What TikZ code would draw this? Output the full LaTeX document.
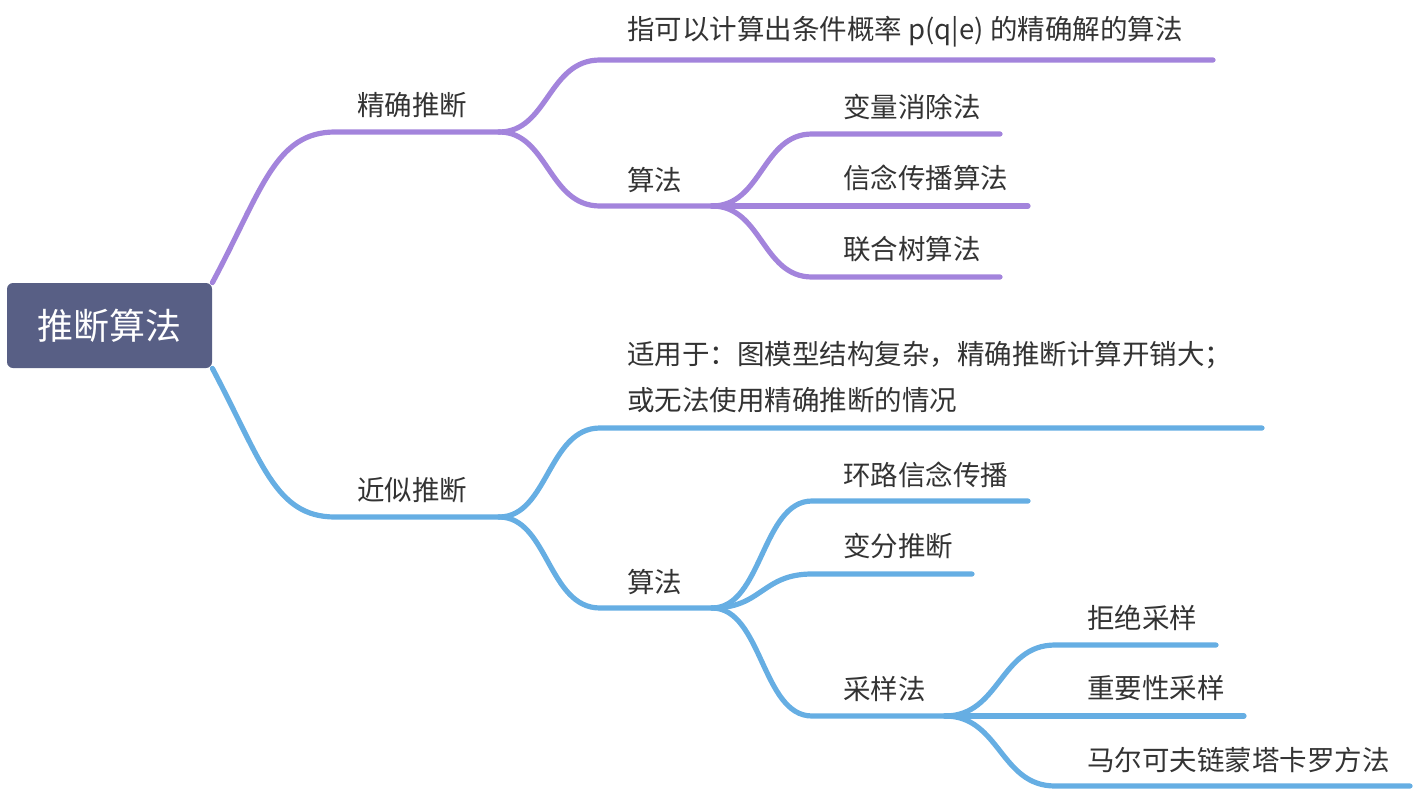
\documentclass[tikz,border=0pt]{standalone}
\usepackage{fontspec}
\usepackage{tikz}
\newfontfamily\cjk{Noto Sans CJK SC}
\definecolor{rootfill}{HTML}{585F85}
\definecolor{purpleline}{HTML}{A384DC}
\definecolor{blueline}{HTML}{66AEE3}
\definecolor{textgray}{HTML}{333333}

\begin{document}
\begin{tikzpicture}[x=0.5pt, y=-0.5pt,
    topic/.style={anchor=west, inner sep=0pt, text=textgray, font=\cjk\fontsize{13.75}{23}\selectfont},
    branch/.style={line width=2.6pt, line cap=round},
    rootbox/.style={rectangle, rounded corners=3pt, fill=rootfill, text=white, minimum width=102.5pt, minimum height=42.5pt, font=\cjk\fontsize{18}{20}\selectfont}]
    \useasboundingbox (0,0) rectangle (1418,792);
    % Nodes
    \node[rootbox] (root) at (109.5,325.5) {推断算法};
    \node[topic] (jq) at (357,105) {精确推断};
    \node[topic] (jqdef) at (627,32) {指可以计算出条件概率 p(q|e) 的精确解的算法};
    \node[topic] (jqalg) at (627,180) {算法};
    \node[topic] (bl) at (843,107) {变量消除法};
    \node[topic] (xn) at (843,178) {信念传播算法};
    \node[topic] (lh) at (843,249) {联合树算法};
    \node[topic] (js) at (357,490) {近似推断};
    \node[topic, align=left] (jsdef) at (627,377) {适用于：图模型结构复杂，精确推断计算开销大；\\或无法使用精确推断的情况};
    \node[topic] (jsalg) at (627,582) {算法};
    \node[topic] (hl) at (843,475) {环路信念传播};
    \node[topic] (bf) at (843,546) {变分推断};
    \node[topic] (cy) at (843,689) {采样法};
    \node[topic] (jj) at (1087,618) {拒绝采样};
    \node[topic] (zy) at (1087,688) {重要性采样};
    \node[topic] (mc) at (1087,760) {马尔可夫链蒙塔卡罗方法};
    % Line ends
    \coordinate (jqend) at (499,132);
    \coordinate (jqalgend) at (712,206);
    \coordinate (jsend) at (499,517);
    \coordinate (jsalgend) at (712,608);
    \coordinate (cyend) at (945,716);
    % Edges
    \begin{scope}[purpleline, branch, draw=purpleline]
        \draw (root.north east) .. controls (262,190) and (275,132) .. (335,132) -- (jqend);
        \draw (jqend) .. controls (548,132) and (548,60) .. (600,60) -- (1213,60);
        \draw (jqend) .. controls (548,132) and (548,206) .. (600,206) -- (jqalgend);
        \draw (jqalgend) .. controls (762,206) and (762,134) .. (812,134) -- (1000,134);
        \draw (jqalgend) -- (1028,206);
        \draw (jqalgend) .. controls (762,206) and (762,277) .. (812,277) -- (1000,277);
    \end{scope}
    \begin{scope}[branch, draw=blueline]
        \draw (root.south east) .. controls (262,462) and (275,517) .. (335,517) -- (jsend);
        \draw (jsend) .. controls (548,517) and (548,428) .. (600,428) -- (1262,428);
        \draw (jsend) .. controls (548,517) and (548,608) .. (600,608) -- (jsalgend);
        \draw (jsalgend) .. controls (762,608) and (762,501) .. (812,501) -- (1028,501);
        \draw (jsalgend) .. controls (762,608) and (762,574) .. (812,574) -- (972,574);
        \draw (jsalgend) .. controls (762,608) and (762,716) .. (812,716) -- (cyend);
        \draw (cyend) .. controls (1000,716) and (1000,645) .. (1055,645) -- (1216,645);
        \draw (cyend) -- (1244,716);
        \draw (cyend) .. controls (1000,716) and (1000,786) .. (1055,786) -- (1410,786);
    \end{scope}
\end{tikzpicture}
\end{document}
